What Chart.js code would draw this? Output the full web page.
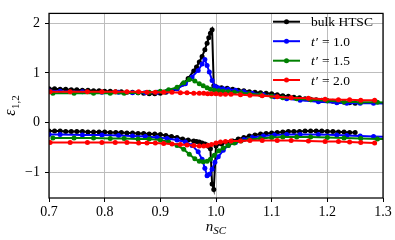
<!DOCTYPE html>
<html>
<head>
<meta charset="utf-8">
<script src="https://cdn.jsdelivr.net/npm/chart.js@4/dist/chart.umd.min.js"></script>
<style>
  body { margin: 0; background: #fff; }
  #chart { display: block; }
</style>
</head>
<body>
<canvas id="chart" width="395" height="240"></canvas>
<script>
// axis ticks
const xTicks = [0.7, 0.8, 0.9, 1.0, 1.1, 1.2, 1.3];
const yTicks = [-1, 0, 1, 2];

// legend labels and colours
const seriesNames = ["bulk HTSC", "t′ = 1.0", "t′ = 1.5", "t′ = 2.0"];
const seriesColors = ['#000000', '#0000ff', '#008000', '#ff0000'];

// bulk HTSC
const xHtsc = [0.70,0.71,0.72,0.73,0.74,0.75,0.76,0.77,0.78,0.79,0.80,0.81,0.82,0.83,0.84,0.85,0.86,0.87,0.88,0.89,0.90,0.91,0.92,0.93,0.94,0.95,0.96,0.965,0.97,0.975,0.98,0.984,0.987,0.99,0.993,0.996,1.00,1.01,1.02,1.03,1.04,1.05,1.06,1.07,1.08,1.09,1.10,1.11,1.12,1.13,1.14,1.15,1.16,1.17,1.18,1.19,1.20,1.21,1.22,1.23,1.24,1.25];
const upHtsc = [0.68,0.68,0.67,0.67,0.66,0.66,0.65,0.65,0.64,0.64,0.63,0.63,0.62,0.62,0.61,0.61,0.60,0.59,0.58,0.58,0.59,0.61,0.63,0.68,0.77,0.89,1.04,1.12,1.22,1.33,1.47,1.60,1.71,1.80,1.87,0.74,0.72,0.70,0.69,0.67,0.65,0.64,0.62,0.61,0.60,0.59,0.58,0.56,0.54,0.53,0.51,0.50,0.48,0.47,0.46,0.45,0.44,0.43,0.42,0.41,0.40,0.39];
const lowHtsc = [-0.17,-0.17,-0.17,-0.18,-0.18,-0.18,-0.18,-0.19,-0.19,-0.19,-0.19,-0.20,-0.20,-0.20,-0.21,-0.21,-0.22,-0.22,-0.23,-0.23,-0.24,-0.26,-0.28,-0.30,-0.33,-0.35,-0.37,-0.38,-0.39,-0.41,-0.43,-0.45,-0.48,-0.53,-1.24,-1.35,-0.47,-0.43,-0.40,-0.37,-0.33,-0.30,-0.27,-0.25,-0.23,-0.22,-0.21,-0.20,-0.19,-0.18,-0.18,-0.18,-0.17,-0.17,-0.17,-0.17,-0.18,-0.18,-0.19,-0.19,-0.20,-0.20];

// t' = 1.0
const xT10 = [0.70,0.72,0.76,0.795,0.825,0.85,0.873,0.894,0.912,0.93,0.945,0.957,0.968,0.975,0.98,0.984,0.988,0.993,0.998,1.004,1.013,1.022,1.035,1.05,1.065,1.085,1.105,1.127,1.151,1.184,1.217,1.235,1.259,1.283,1.31];
const upT10 = [0.64,0.63,0.62,0.61,0.61,0.60,0.60,0.61,0.63,0.68,0.78,0.92,1.05,1.18,1.27,1.15,1.02,0.85,0.73,0.70,0.68,0.67,0.65,0.62,0.59,0.56,0.52,0.48,0.45,0.42,0.40,0.39,0.39,0.39,0.38];
const lowT10 = [-0.24,-0.24,-0.25,-0.25,-0.26,-0.27,-0.28,-0.30,-0.32,-0.35,-0.39,-0.46,-0.59,-0.74,-0.92,-1.07,-1.04,-0.94,-0.80,-0.69,-0.56,-0.46,-0.40,-0.34,-0.30,-0.27,-0.25,-0.24,-0.24,-0.24,-0.25,-0.26,-0.27,-0.28,-0.29];

// t' = 1.5
const xT15 = [0.707,0.745,0.78,0.81,0.835,0.86,0.88,0.90,0.915,0.93,0.942,0.952,0.962,0.97,0.977,0.984,0.99,0.997,1.005,1.013,1.022,1.033,1.045,1.06,1.08,1.10,1.12,1.145,1.17,1.20,1.23,1.26,1.29,1.32];
const upT15 = [0.59,0.59,0.59,0.59,0.59,0.60,0.61,0.63,0.66,0.71,0.80,0.87,0.84,0.78,0.74,0.70,0.67,0.65,0.64,0.63,0.62,0.61,0.60,0.58,0.56,0.53,0.50,0.48,0.46,0.44,0.42,0.41,0.41,0.40];
const lowT15 = [-0.31,-0.31,-0.31,-0.32,-0.32,-0.33,-0.33,-0.35,-0.39,-0.46,-0.54,-0.64,-0.73,-0.78,-0.79,-0.78,-0.74,-0.66,-0.57,-0.51,-0.46,-0.41,-0.37,-0.34,-0.32,-0.30,-0.29,-0.29,-0.29,-0.30,-0.31,-0.32,-0.33,-0.34];

// t' = 2.0
const xT20 = [0.702,0.738,0.769,0.795,0.819,0.84,0.861,0.876,0.891,0.906,0.921,0.936,0.948,0.96,0.97,0.978,0.985,0.992,1.0,1.008,1.017,1.027,1.044,1.061,1.083,1.11,1.135,1.166,1.196,1.22,1.24,1.26,1.285];
const upT20 = [0.62,0.62,0.62,0.62,0.62,0.62,0.62,0.61,0.61,0.61,0.61,0.60,0.60,0.59,0.59,0.59,0.58,0.58,0.58,0.57,0.57,0.57,0.56,0.55,0.54,0.52,0.50,0.49,0.47,0.46,0.46,0.45,0.45];
const lowT20 = [-0.40,-0.40,-0.40,-0.40,-0.40,-0.40,-0.41,-0.41,-0.41,-0.42,-0.43,-0.44,-0.45,-0.46,-0.47,-0.47,-0.46,-0.44,-0.41,-0.39,-0.38,-0.37,-0.37,-0.36,-0.36,-0.36,-0.36,-0.37,-0.38,-0.38,-0.39,-0.40,-0.41];

const SERIF = "'Liberation Serif', 'DejaVu Serif', serif";

function toPoints(xs, ys) {
    return xs.map((x, i) => ({ x: x, y: ys[i] }));
}

function makeSet(xs, ys, color, order) {
    return {
        data: toPoints(xs, ys),
        borderColor: color,
        backgroundColor: color,
        borderWidth: 2,
        pointRadius: 2.5,
        pointHoverRadius: 2.5,
        pointBorderWidth: 0,
        pointBackgroundColor: color,
        tension: 0,
        clip: 0,
        order: order
    };
}

// box around plot, legend and axis titles
const extrasPlugin = {
    id: 'extras',
    afterDatasetsDraw(chart) {
        const ctx = chart.ctx;
        const a = chart.chartArea;
        ctx.save();
        ctx.strokeStyle = '#000';
        ctx.lineWidth = 1.25;
        ctx.strokeRect(a.left, a.top, a.right - a.left, a.bottom - a.top);
        ctx.restore();
    },
    afterDraw(chart) {
        const ctx = chart.ctx;
        const a = chart.chartArea;
        ctx.save();

        // legend (no frame)
        const rowY = [21.7, 41.2, 60.7, 80];
        seriesNames.forEach((name, i) => {
            const y = rowY[i];
            ctx.strokeStyle = seriesColors[i];
            ctx.lineWidth = 2;
            ctx.beginPath();
            ctx.moveTo(273, y);
            ctx.lineTo(300, y);
            ctx.stroke();
            ctx.fillStyle = seriesColors[i];
            ctx.beginPath();
            ctx.arc(286.5, y, 2.5, 0, Math.PI * 2);
            ctx.fill();

            ctx.fillStyle = '#000';
            ctx.textBaseline = 'middle';
            ctx.textAlign = 'left';
            let tx = 311;
            if (name.startsWith('t')) {
                ctx.font = 'italic 13.5px ' + SERIF;
                ctx.fillText('t', tx, y + 1);
                tx += ctx.measureText('t').width + 1;
                ctx.font = '13.5px ' + SERIF;
                ctx.fillText(name.slice(1), tx, y + 1);
            } else {
                ctx.font = '13.5px ' + SERIF;
                ctx.fillText(name, tx, y + 1);
            }
        });

        // x title: n_SC
        ctx.fillStyle = '#000';
        ctx.textBaseline = 'alphabetic';
        ctx.textAlign = 'left';
        ctx.font = 'italic 15px ' + SERIF;
        const wn = ctx.measureText('n').width;
        ctx.font = 'italic 11px ' + SERIF;
        const ws = ctx.measureText('SC').width;
        let x0 = (a.left + a.right) / 2 - (wn + ws) / 2;
        ctx.font = 'italic 15px ' + SERIF;
        ctx.fillText('n', x0, 231);
        ctx.font = 'italic 11px ' + SERIF;
        ctx.fillText('SC', x0 + wn, 234);

        // y title: epsilon_{1,2}
        ctx.translate(15, (a.top + a.bottom) / 2);
        ctx.rotate(-Math.PI / 2);
        ctx.font = 'italic 16px ' + SERIF;
        const we = ctx.measureText('ε').width;
        ctx.font = '11px ' + SERIF;
        const wsub = ctx.measureText('1,2').width;
        const s0 = -(we + wsub) / 2;
        ctx.font = 'italic 16px ' + SERIF;
        ctx.fillText('ε', s0, 0);
        ctx.font = '11px ' + SERIF;
        ctx.fillText('1,2', s0 + we + 0.5, 3.5);

        ctx.restore();
    }
};

document.addEventListener("DOMContentLoaded", function() {
    const ctx = document.getElementById('chart').getContext('2d');
    const tickFont = { family: SERIF, size: 14 };

    new Chart(ctx, {
        type: 'line',
        data: {
            datasets: [
                makeSet(xHtsc, upHtsc, seriesColors[0], 4),
                makeSet(xHtsc, lowHtsc, seriesColors[0], 4),
                makeSet(xT10, upT10, seriesColors[1], 3),
                makeSet(xT10, lowT10, seriesColors[1], 3),
                makeSet(xT15, upT15, seriesColors[2], 2),
                makeSet(xT15, lowT15, seriesColors[2], 2),
                makeSet(xT20, upT20, seriesColors[3], 1),
                makeSet(xT20, lowT20, seriesColors[3], 1)
            ]
        },
        options: {
            responsive: false,
            animation: false,
            devicePixelRatio: 1,
            layout: { padding: { top: 3, right: 12, left: 0, bottom: 0 } },
            scales: {
                x: {
                    type: 'linear',
                    min: 0.7,
                    max: 1.3,
                    afterBuildTicks: s => { s.ticks = xTicks.map(v => ({ value: v })); },
                    afterFit: s => { s.height = 42; },
                    ticks: {
                        callback: v => v.toFixed(1),
                        font: tickFont,
                        color: '#000',
                        padding: 2,
                        maxRotation: 0,
                        autoSkip: false
                    },
                    grid: { color: '#bdbdbd', lineWidth: 1, tickColor: '#000', tickLength: 4 },
                    border: { display: false }
                },
                y: {
                    type: 'linear',
                    min: -1.52,
                    max: 2.2,
                    afterBuildTicks: s => { s.ticks = yTicks.map(v => ({ value: v })); },
                    afterFit: s => { s.width = 49; },
                    ticks: {
                        callback: v => v < 0 ? '\u2212' + Math.abs(v) : String(v),
                        font: tickFont,
                        color: '#000',
                        padding: 5
                    },
                    grid: { color: '#bdbdbd', lineWidth: 1, tickColor: '#000', tickLength: 4 },
                    border: { display: false }
                }
            },
            plugins: {
                legend: { display: false },
                tooltip: { enabled: false }
            }
        },
        plugins: [extrasPlugin]
    });
});
</script>
</body>
</html>
